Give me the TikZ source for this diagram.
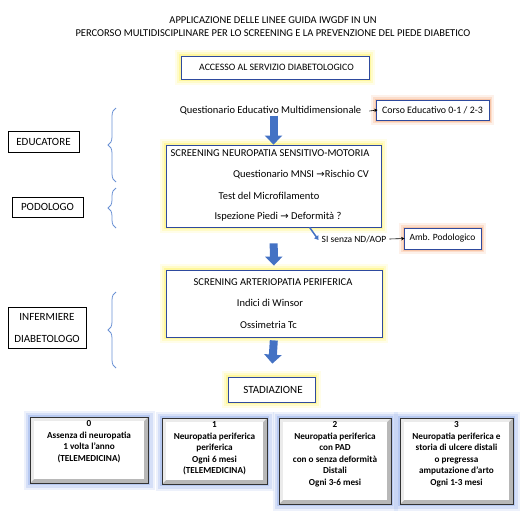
\documentclass[tikz,border=0pt]{standalone}
\usepackage{fontspec}
\setmainfont{Carlito}
\newfontfamily\arrowfont{DejaVu Sans}
\usepackage{xcolor}
\usetikzlibrary{arrows.meta,positioning,decorations.pathreplacing,calc}
\definecolor{boxblue}{HTML}{2E4A9E}
\definecolor{arrowblue}{HTML}{4472C4}
\definecolor{bracecol}{HTML}{6A91D4}
\definecolor{glowyel}{HTML}{FFF04A}
\definecolor{glowor}{HTML}{F4A070}
\definecolor{glowblu}{HTML}{7F9FE6}
\newcommand{\freccia}{{\arrowfont\fontsize{10}{11}\selectfont →}}

\begin{document}
\begin{tikzpicture}[x=1pt,y=-1pt,
  font=\fontsize{10.5}{12}\selectfont,
  every node/.style={inner sep=0pt},
  ybox/.style={draw=boxblue,line width=0.8pt,fill=white,
    preaction={draw=glowyel,line width=12pt,opacity=0.12},
    preaction={draw=glowyel,line width=8pt,opacity=0.2},
    preaction={draw=glowyel,line width=4pt,opacity=0.35}},
  obox/.style={draw=boxblue,line width=0.8pt,fill=white,
    preaction={draw=glowor,line width=10pt,opacity=0.15},
    preaction={draw=glowor,line width=6pt,opacity=0.25},
    preaction={draw=glowor,line width=3pt,opacity=0.4}},
  rolebox/.style={draw=black,line width=0.7pt,fill=white},
  stagebox/.style={draw=black!80,line width=0.7pt,fill=black!28,
    preaction={draw=glowblu,line width=13pt,opacity=0.14},
    preaction={draw=glowblu,line width=9pt,opacity=0.22},
    preaction={draw=glowblu,line width=4pt,opacity=0.35},
    path picture={
      \fill[black!8] (path picture bounding box.south west) -- (path picture bounding box.north west)
        -- (path picture bounding box.north east) -- ($(path picture bounding box.north east)+(-4pt,-4pt)$)
        -- ($(path picture bounding box.north west)+(4pt,-4pt)$) -- ($(path picture bounding box.south west)+(4pt,4pt)$) -- cycle;
      \fill[white] ($(path picture bounding box.south west)+(4pt,4pt)$) rectangle ($(path picture bounding box.north east)+(-4pt,-4pt)$);}},
  stagetxt/.style={align=center,font=\bfseries\fontsize{9.2}{11.5}\selectfont},
  bigarrow/.style={draw=arrowblue,line width=8pt,-{Triangle[length=9pt,width=17pt]}},
  txtarrow/.style={-{Stealth[length=3.5pt,width=3.5pt]},line width=0.6pt},
  bracestyle/.style={draw=bracecol,line width=0.8pt,decorate,decoration={brace,amplitude=8pt}}]
\useasboundingbox (0,0) rectangle (522,525);

% titolo
\node (tit1) at (273,20) {APPLICAZIONE DELLE LINEE GUIDA IWGDF IN UN};
\node (tit2) at (273,33) {PERCORSO MULTIDISCIPLINARE PER LO SCREENING E LA PREVENZIONE DEL PIEDE DIABETICO};

% accesso
\node[ybox,minimum width=188pt,minimum height=23pt,font=\fontsize{9.8}{11}\selectfont] (accesso) at (275,67.5) {\hspace{3pt}ACCESSO AL SERVIZIO DIABETOLOGICO};

% questionario educativo
\node (quest) at (270.5,111) {Questionario Educativo Multidimensionale};
\node[obox,minimum width=113pt,minimum height=20pt,font=\fontsize{9.9}{11}\selectfont] (corso) at (432.5,110) {Corso Educativo 0-1 / 2-3};
\draw[txtarrow] ($(quest.east)+(8pt,0)$) -- ($(corso.west)+(2pt,0)$);

% screening neuropatia
\node[ybox,minimum width=215pt,minimum height=82pt] (sns) at (273.5,186) {};
\node (sns1) at (270,153) {SCREENING NEUROPATIA SENSITIVO-MOTORIA};
\node (sns2) at (301,175) {Questionario MNSI \freccia Rischio CV};
\node (sns3) at (269,196) {Test del Microfilamento};
\node (sns4) at (278,217) {Ispezione Piedi \freccia\ Deformità ?};

% podologo
\node[font=\fontsize{9.5}{11}\selectfont] (si) at (354,239) {SI senza ND/AOP};
\node[obox,minimum width=77pt,minimum height=21pt,font=\fontsize{9.5}{11}\selectfont] (amb) at (442.5,238.5) {Amb. Podologico};
\draw[txtarrow] ($(si.east)+(3pt,0)$) -- ($(amb.west)+(1pt,0)$);
\draw[draw=arrowblue,line width=1.5pt,-{Triangle[length=4pt,width=5pt]}] ($(sns.south west)+(144pt,0)$) -- ($(si.west)+(-3pt,-1pt)$);

% screening arteriopatia
\node[ybox,minimum width=216pt,minimum height=67pt] (art) at (274,303.5) {};
\node (art1) at (273,282) {SCRENING ARTERIOPATIA PERIFERICA};
\node (art2) at (270,303) {Indici di Winsor};
\node (art3) at (268.5,325) {Ossimetria Tc};

% stadiazione
\node[ybox,minimum width=87pt,minimum height=25pt,font=\fontsize{11}{12}\selectfont] (stad) at (271.5,389.5) {\hspace{3pt}STADIAZIONE};

% frecce principali
\draw[bigarrow] (sns.north |- quest.south) -- (sns.north);
\draw[bigarrow,shorten <=16pt,shorten >=4pt] (sns.south) -- (art.north);
\draw[bigarrow,shorten <=3pt,shorten >=13pt] (art.south) -- (stad.north);

% figure professionali
\node[rolebox,minimum width=71pt,minimum height=21pt,font=\fontsize{11}{12}\selectfont] (educ) at (43.5,141.5) {EDUCATORE};
\node[rolebox,minimum width=71pt,minimum height=20pt,font=\fontsize{11}{12}\selectfont] (podo) at (47.5,207) {PODOLOGO};
\node[rolebox,minimum width=78pt,minimum height=41pt,align=center,font=\fontsize{11}{22}\selectfont] (inf) at (47,328) {INFERMIERE\\DIABETOLOGO};
\draw[bracestyle] (116,182) -- (116,108);
\draw[bracestyle] (116,228) -- (116,188);
\draw[bracestyle] (116,368) -- (116,292);

% stadi
\node[stagebox,minimum width=118pt,minimum height=66pt] (s0) at (89,450) {};
\node[stagebox,minimum width=105pt,minimum height=66pt] (s1) at (214.5,451) {};
\node[stagebox,minimum width=112pt,minimum height=86pt] (s2) at (335,461) {};
\node[stagebox,minimum width=113pt,minimum height=86pt] (s3) at (456.5,461) {};
\node[stagetxt,below=4pt of s0.north] (s0t) {0\\Assenza di neuropatia\\1 volta l’anno\\(TELEMEDICINA)};
\node[stagetxt,below=4pt of s1.north] (s1t) {1\\Neuropatia periferica\\periferica\\Ogni 6 mesi\\(TELEMEDICINA)};
\node[stagetxt,below=4pt of s2.north] (s2t) {2\\Neuropatia periferica\\con PAD\\con o senza deformità\\Distali\\Ogni 3-6 mesi};
\node[stagetxt,below=4pt of s3.north] (s3t) {3\\Neuropatia periferica e\\storia di ulcere distali\\o pregressa\\amputazione d’arto\\Ogni 1-3 mesi};
\end{tikzpicture}
\end{document}
